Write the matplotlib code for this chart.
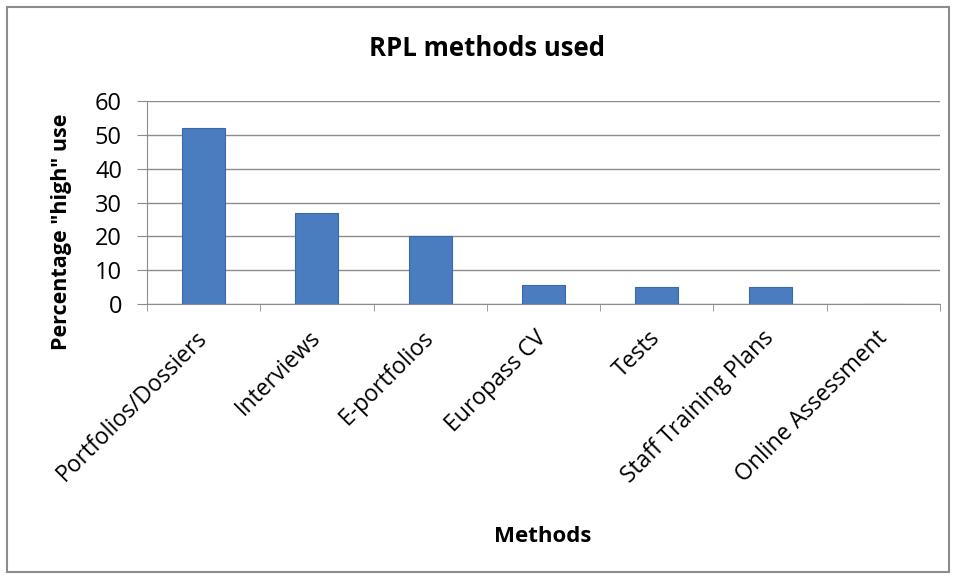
import matplotlib
matplotlib.use("Agg")
import matplotlib.pyplot as plt
from matplotlib.patches import Rectangle
import numpy as np

categories = ["Portfolios/Dossiers", "Interviews", "E-portfolios", "Europass CV",
              "Tests", "Staff Training Plans", "Online Assessment"]
values = [52, 27, 20, 5.5, 5, 5, 0]
yticks = [0, 10, 20, 30, 40, 50, 60]

plt.rcParams['font.family'] = ['Open Sans', 'DejaVu Sans']

W, H = 958, 579
fig = plt.figure(figsize=(W/100, H/100), dpi=100)
ax = fig.add_axes([147/W, 1-304/H, (940-147)/W, (304-101)/H])

x = np.arange(len(categories))
ax.bar(x, values, width=0.38, color="#4a7cc0", edgecolor="#3a68a8", linewidth=0.8, zorder=3)

ax.set_xlim(-0.5, len(categories)-0.5)
ax.set_ylim(0, 60)
ax.set_yticks(yticks)
ax.set_yticklabels([str(v) for v in yticks], fontsize=17)
ax.yaxis.grid(True, color="#8c8c8c", linewidth=1, zorder=0)
ax.tick_params(axis='y', length=7, color="#8c8c8c", pad=11)

ax.set_xticks(x)
ax.set_xticklabels(categories, rotation=45, ha='right', va='center', rotation_mode='anchor', fontsize=16.5)
ax.tick_params(axis='x', length=0, pad=22)
ax.set_xticks(np.arange(-0.5, len(categories)), minor=True)
ax.tick_params(axis='x', which='minor', length=5, color="#8c8c8c", direction='out')

for s in ['top', 'right']:
    ax.spines[s].set_visible(False)
ax.spines['left'].set_color("#8c8c8c")
ax.spines['bottom'].set_color("#8c8c8c")

fig.text(61/W, 1-232/H, 'Percentage "high" use', rotation=90, ha='center', va='center',
         fontsize=15.5, fontweight='bold')
fig.text(487/W, 1-49/H, "RPL methods used", ha='center', va='center', fontsize=18.5, fontweight='bold')
fig.text(543/W, 1-537/H, "Methods", ha='center', va='center', fontsize=16, fontweight='bold')

fig.patches.append(Rectangle((7/W, 7/H), (949-7)/W, (H-7-7)/H, transform=fig.transFigure,
                             fill=False, edgecolor="#8c8c8c", linewidth=1.5))

fig.savefig("out.png", dpi=100)
